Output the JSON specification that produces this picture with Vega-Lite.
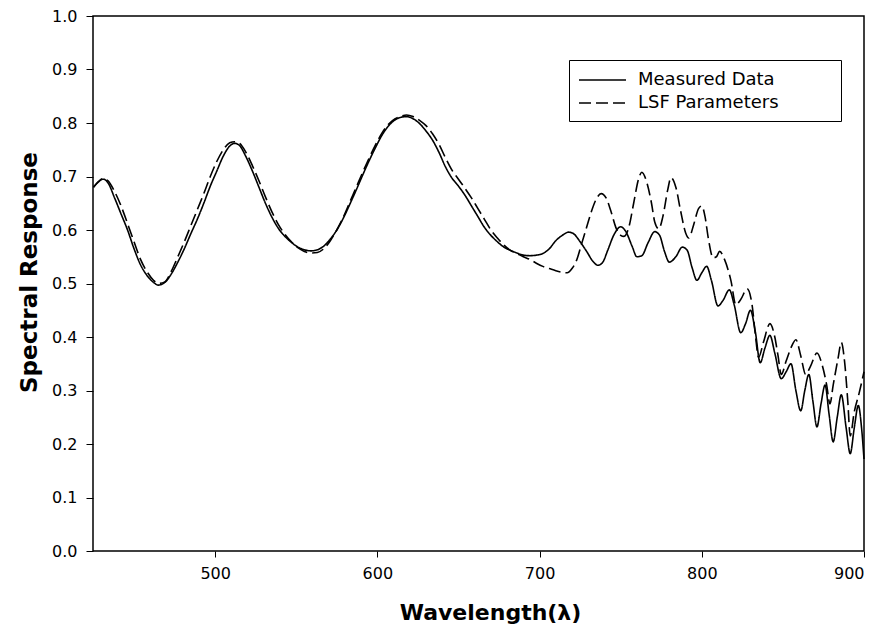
{
  "$schema": "https://vega.github.io/schema/vega-lite/v6.json",
  "autosize": "none",
  "width": 771,
  "height": 535,
  "padding": {"left": 93, "top": 16, "right": 20, "bottom": 85},
  "background": "white",
  "config": {
    "view": {"stroke": "black", "strokeWidth": 1.5},
    "font": "DejaVu Sans"
  },
  "data": {"values": [
    {"w":425,"r":0.680,"series":"Measured Data"},{"w":428,"r":0.690,"series":"Measured Data"},{"w":431,"r":0.695,"series":"Measured Data"},{"w":434,"r":0.688,"series":"Measured Data"},{"w":438,"r":0.660,"series":"Measured Data"},{"w":442,"r":0.630,"series":"Measured Data"},{"w":446,"r":0.600,"series":"Measured Data"},{"w":450,"r":0.565,"series":"Measured Data"},{"w":454,"r":0.535,"series":"Measured Data"},{"w":458,"r":0.515,"series":"Measured Data"},{"w":462,"r":0.502,"series":"Measured Data"},{"w":465,"r":0.497,"series":"Measured Data"},{"w":469,"r":0.502,"series":"Measured Data"},{"w":473,"r":0.518,"series":"Measured Data"},{"w":477,"r":0.540,"series":"Measured Data"},{"w":481,"r":0.565,"series":"Measured Data"},{"w":485,"r":0.593,"series":"Measured Data"},{"w":489,"r":0.620,"series":"Measured Data"},{"w":493,"r":0.650,"series":"Measured Data"},{"w":497,"r":0.682,"series":"Measured Data"},{"w":501,"r":0.710,"series":"Measured Data"},{"w":505,"r":0.738,"series":"Measured Data"},{"w":509,"r":0.757,"series":"Measured Data"},{"w":512,"r":0.762,"series":"Measured Data"},{"w":515,"r":0.758,"series":"Measured Data"},{"w":519,"r":0.737,"series":"Measured Data"},{"w":523,"r":0.710,"series":"Measured Data"},{"w":527,"r":0.680,"series":"Measured Data"},{"w":531,"r":0.650,"series":"Measured Data"},{"w":535,"r":0.624,"series":"Measured Data"},{"w":539,"r":0.603,"series":"Measured Data"},{"w":543,"r":0.588,"series":"Measured Data"},{"w":547,"r":0.577,"series":"Measured Data"},{"w":551,"r":0.568,"series":"Measured Data"},{"w":555,"r":0.563,"series":"Measured Data"},{"w":559,"r":0.561,"series":"Measured Data"},{"w":563,"r":0.563,"series":"Measured Data"},{"w":567,"r":0.570,"series":"Measured Data"},{"w":571,"r":0.583,"series":"Measured Data"},{"w":575,"r":0.600,"series":"Measured Data"},{"w":579,"r":0.622,"series":"Measured Data"},{"w":583,"r":0.648,"series":"Measured Data"},{"w":587,"r":0.675,"series":"Measured Data"},{"w":591,"r":0.703,"series":"Measured Data"},{"w":595,"r":0.730,"series":"Measured Data"},{"w":599,"r":0.755,"series":"Measured Data"},{"w":603,"r":0.778,"series":"Measured Data"},{"w":607,"r":0.795,"series":"Measured Data"},{"w":611,"r":0.806,"series":"Measured Data"},{"w":615,"r":0.811,"series":"Measured Data"},{"w":618,"r":0.812,"series":"Measured Data"},{"w":622,"r":0.808,"series":"Measured Data"},{"w":626,"r":0.799,"series":"Measured Data"},{"w":630,"r":0.785,"series":"Measured Data"},{"w":634,"r":0.768,"series":"Measured Data"},{"w":638,"r":0.745,"series":"Measured Data"},{"w":642,"r":0.718,"series":"Measured Data"},{"w":646,"r":0.697,"series":"Measured Data"},{"w":650,"r":0.682,"series":"Measured Data"},{"w":654,"r":0.665,"series":"Measured Data"},{"w":658,"r":0.645,"series":"Measured Data"},{"w":662,"r":0.625,"series":"Measured Data"},{"w":666,"r":0.605,"series":"Measured Data"},{"w":670,"r":0.590,"series":"Measured Data"},{"w":674,"r":0.578,"series":"Measured Data"},{"w":678,"r":0.568,"series":"Measured Data"},{"w":682,"r":0.562,"series":"Measured Data"},{"w":686,"r":0.557,"series":"Measured Data"},{"w":690,"r":0.553,"series":"Measured Data"},{"w":694,"r":0.552,"series":"Measured Data"},{"w":698,"r":0.553,"series":"Measured Data"},{"w":702,"r":0.556,"series":"Measured Data"},{"w":706,"r":0.565,"series":"Measured Data"},{"w":710,"r":0.580,"series":"Measured Data"},{"w":714,"r":0.590,"series":"Measured Data"},{"w":718,"r":0.596,"series":"Measured Data"},{"w":721,"r":0.593,"series":"Measured Data"},{"w":725,"r":0.578,"series":"Measured Data"},{"w":729,"r":0.560,"series":"Measured Data"},{"w":733,"r":0.541,"series":"Measured Data"},{"w":736,"r":0.534,"series":"Measured Data"},{"w":739,"r":0.540,"series":"Measured Data"},{"w":742,"r":0.562,"series":"Measured Data"},{"w":746,"r":0.592,"series":"Measured Data"},{"w":750,"r":0.606,"series":"Measured Data"},{"w":753,"r":0.598,"series":"Measured Data"},{"w":757,"r":0.570,"series":"Measured Data"},{"w":760,"r":0.550,"series":"Measured Data"},{"w":763,"r":0.552,"series":"Measured Data"},{"w":767,"r":0.577,"series":"Measured Data"},{"w":771,"r":0.597,"series":"Measured Data"},{"w":774,"r":0.590,"series":"Measured Data"},{"w":777,"r":0.560,"series":"Measured Data"},{"w":780,"r":0.540,"series":"Measured Data"},{"w":784,"r":0.550,"series":"Measured Data"},{"w":788,"r":0.568,"series":"Measured Data"},{"w":791,"r":0.562,"series":"Measured Data"},{"w":794,"r":0.530,"series":"Measured Data"},{"w":797,"r":0.506,"series":"Measured Data"},{"w":800,"r":0.520,"series":"Measured Data"},{"w":803,"r":0.532,"series":"Measured Data"},{"w":806,"r":0.505,"series":"Measured Data"},{"w":810,"r":0.458,"series":"Measured Data"},{"w":813,"r":0.468,"series":"Measured Data"},{"w":817,"r":0.488,"series":"Measured Data"},{"w":820,"r":0.460,"series":"Measured Data"},{"w":824,"r":0.408,"series":"Measured Data"},{"w":827,"r":0.425,"series":"Measured Data"},{"w":830,"r":0.450,"series":"Measured Data"},{"w":833,"r":0.410,"series":"Measured Data"},{"w":836,"r":0.352,"series":"Measured Data"},{"w":839,"r":0.380,"series":"Measured Data"},{"w":842,"r":0.403,"series":"Measured Data"},{"w":845,"r":0.370,"series":"Measured Data"},{"w":849,"r":0.322,"series":"Measured Data"},{"w":852,"r":0.335,"series":"Measured Data"},{"w":855,"r":0.350,"series":"Measured Data"},{"w":858,"r":0.300,"series":"Measured Data"},{"w":861,"r":0.262,"series":"Measured Data"},{"w":863.5,"r":0.300,"series":"Measured Data"},{"w":866,"r":0.330,"series":"Measured Data"},{"w":868.5,"r":0.280,"series":"Measured Data"},{"w":871,"r":0.232,"series":"Measured Data"},{"w":873.5,"r":0.275,"series":"Measured Data"},{"w":876,"r":0.310,"series":"Measured Data"},{"w":878.5,"r":0.255,"series":"Measured Data"},{"w":881,"r":0.204,"series":"Measured Data"},{"w":883.5,"r":0.250,"series":"Measured Data"},{"w":886,"r":0.292,"series":"Measured Data"},{"w":889,"r":0.230,"series":"Measured Data"},{"w":891.5,"r":0.182,"series":"Measured Data"},{"w":894,"r":0.230,"series":"Measured Data"},{"w":896.5,"r":0.272,"series":"Measured Data"},{"w":898.5,"r":0.230,"series":"Measured Data"},{"w":900,"r":0.172,"series":"Measured Data"},
    {"w":425,"r":0.680,"series":"LSF Parameters"},{"w":428,"r":0.690,"series":"LSF Parameters"},{"w":431,"r":0.696,"series":"LSF Parameters"},{"w":434,"r":0.692,"series":"LSF Parameters"},{"w":438,"r":0.672,"series":"LSF Parameters"},{"w":442,"r":0.645,"series":"LSF Parameters"},{"w":446,"r":0.612,"series":"LSF Parameters"},{"w":450,"r":0.578,"series":"LSF Parameters"},{"w":454,"r":0.545,"series":"LSF Parameters"},{"w":458,"r":0.522,"series":"LSF Parameters"},{"w":462,"r":0.506,"series":"LSF Parameters"},{"w":465,"r":0.500,"series":"LSF Parameters"},{"w":469,"r":0.503,"series":"LSF Parameters"},{"w":473,"r":0.523,"series":"LSF Parameters"},{"w":477,"r":0.550,"series":"LSF Parameters"},{"w":481,"r":0.578,"series":"LSF Parameters"},{"w":485,"r":0.608,"series":"LSF Parameters"},{"w":489,"r":0.638,"series":"LSF Parameters"},{"w":493,"r":0.668,"series":"LSF Parameters"},{"w":497,"r":0.700,"series":"LSF Parameters"},{"w":501,"r":0.728,"series":"LSF Parameters"},{"w":505,"r":0.750,"series":"LSF Parameters"},{"w":509,"r":0.763,"series":"LSF Parameters"},{"w":512,"r":0.765,"series":"LSF Parameters"},{"w":515,"r":0.762,"series":"LSF Parameters"},{"w":519,"r":0.745,"series":"LSF Parameters"},{"w":523,"r":0.720,"series":"LSF Parameters"},{"w":527,"r":0.692,"series":"LSF Parameters"},{"w":531,"r":0.662,"series":"LSF Parameters"},{"w":535,"r":0.634,"series":"LSF Parameters"},{"w":539,"r":0.610,"series":"LSF Parameters"},{"w":543,"r":0.592,"series":"LSF Parameters"},{"w":547,"r":0.578,"series":"LSF Parameters"},{"w":551,"r":0.567,"series":"LSF Parameters"},{"w":555,"r":0.560,"series":"LSF Parameters"},{"w":559,"r":0.557,"series":"LSF Parameters"},{"w":563,"r":0.558,"series":"LSF Parameters"},{"w":567,"r":0.565,"series":"LSF Parameters"},{"w":571,"r":0.580,"series":"LSF Parameters"},{"w":575,"r":0.600,"series":"LSF Parameters"},{"w":579,"r":0.624,"series":"LSF Parameters"},{"w":583,"r":0.652,"series":"LSF Parameters"},{"w":587,"r":0.680,"series":"LSF Parameters"},{"w":591,"r":0.708,"series":"LSF Parameters"},{"w":595,"r":0.735,"series":"LSF Parameters"},{"w":599,"r":0.760,"series":"LSF Parameters"},{"w":603,"r":0.782,"series":"LSF Parameters"},{"w":607,"r":0.798,"series":"LSF Parameters"},{"w":611,"r":0.808,"series":"LSF Parameters"},{"w":615,"r":0.813,"series":"LSF Parameters"},{"w":618,"r":0.815,"series":"LSF Parameters"},{"w":622,"r":0.812,"series":"LSF Parameters"},{"w":626,"r":0.805,"series":"LSF Parameters"},{"w":630,"r":0.795,"series":"LSF Parameters"},{"w":634,"r":0.780,"series":"LSF Parameters"},{"w":638,"r":0.760,"series":"LSF Parameters"},{"w":642,"r":0.735,"series":"LSF Parameters"},{"w":646,"r":0.712,"series":"LSF Parameters"},{"w":650,"r":0.695,"series":"LSF Parameters"},{"w":654,"r":0.678,"series":"LSF Parameters"},{"w":658,"r":0.660,"series":"LSF Parameters"},{"w":662,"r":0.640,"series":"LSF Parameters"},{"w":666,"r":0.620,"series":"LSF Parameters"},{"w":670,"r":0.600,"series":"LSF Parameters"},{"w":674,"r":0.585,"series":"LSF Parameters"},{"w":678,"r":0.572,"series":"LSF Parameters"},{"w":682,"r":0.562,"series":"LSF Parameters"},{"w":686,"r":0.556,"series":"LSF Parameters"},{"w":690,"r":0.550,"series":"LSF Parameters"},{"w":694,"r":0.545,"series":"LSF Parameters"},{"w":698,"r":0.538,"series":"LSF Parameters"},{"w":702,"r":0.532,"series":"LSF Parameters"},{"w":706,"r":0.528,"series":"LSF Parameters"},{"w":710,"r":0.524,"series":"LSF Parameters"},{"w":714,"r":0.521,"series":"LSF Parameters"},{"w":717,"r":0.520,"series":"LSF Parameters"},{"w":720,"r":0.528,"series":"LSF Parameters"},{"w":723,"r":0.545,"series":"LSF Parameters"},{"w":726,"r":0.575,"series":"LSF Parameters"},{"w":729,"r":0.605,"series":"LSF Parameters"},{"w":732,"r":0.635,"series":"LSF Parameters"},{"w":735,"r":0.658,"series":"LSF Parameters"},{"w":738,"r":0.668,"series":"LSF Parameters"},{"w":741,"r":0.660,"series":"LSF Parameters"},{"w":744,"r":0.635,"series":"LSF Parameters"},{"w":747,"r":0.605,"series":"LSF Parameters"},{"w":750,"r":0.590,"series":"LSF Parameters"},{"w":752,"r":0.588,"series":"LSF Parameters"},{"w":755,"r":0.605,"series":"LSF Parameters"},{"w":758,"r":0.650,"series":"LSF Parameters"},{"w":761,"r":0.695,"series":"LSF Parameters"},{"w":763,"r":0.708,"series":"LSF Parameters"},{"w":766,"r":0.690,"series":"LSF Parameters"},{"w":769,"r":0.650,"series":"LSF Parameters"},{"w":771,"r":0.615,"series":"LSF Parameters"},{"w":773.5,"r":0.602,"series":"LSF Parameters"},{"w":776,"r":0.625,"series":"LSF Parameters"},{"w":779,"r":0.675,"series":"LSF Parameters"},{"w":781,"r":0.698,"series":"LSF Parameters"},{"w":784,"r":0.680,"series":"LSF Parameters"},{"w":787,"r":0.635,"series":"LSF Parameters"},{"w":790,"r":0.595,"series":"LSF Parameters"},{"w":792,"r":0.585,"series":"LSF Parameters"},{"w":795,"r":0.610,"series":"LSF Parameters"},{"w":798,"r":0.640,"series":"LSF Parameters"},{"w":800,"r":0.645,"series":"LSF Parameters"},{"w":802,"r":0.625,"series":"LSF Parameters"},{"w":804,"r":0.585,"series":"LSF Parameters"},{"w":807,"r":0.548,"series":"LSF Parameters"},{"w":809,"r":0.550,"series":"LSF Parameters"},{"w":811,"r":0.560,"series":"LSF Parameters"},{"w":814,"r":0.545,"series":"LSF Parameters"},{"w":818,"r":0.505,"series":"LSF Parameters"},{"w":821,"r":0.460,"series":"LSF Parameters"},{"w":824,"r":0.470,"series":"LSF Parameters"},{"w":828,"r":0.490,"series":"LSF Parameters"},{"w":831,"r":0.460,"series":"LSF Parameters"},{"w":833,"r":0.405,"series":"LSF Parameters"},{"w":835,"r":0.362,"series":"LSF Parameters"},{"w":838,"r":0.390,"series":"LSF Parameters"},{"w":842,"r":0.425,"series":"LSF Parameters"},{"w":845,"r":0.400,"series":"LSF Parameters"},{"w":847,"r":0.365,"series":"LSF Parameters"},{"w":849,"r":0.330,"series":"LSF Parameters"},{"w":852,"r":0.355,"series":"LSF Parameters"},{"w":855,"r":0.380,"series":"LSF Parameters"},{"w":858,"r":0.395,"series":"LSF Parameters"},{"w":861,"r":0.365,"series":"LSF Parameters"},{"w":864,"r":0.330,"series":"LSF Parameters"},{"w":867,"r":0.345,"series":"LSF Parameters"},{"w":871,"r":0.370,"series":"LSF Parameters"},{"w":874,"r":0.350,"series":"LSF Parameters"},{"w":877,"r":0.310,"series":"LSF Parameters"},{"w":879,"r":0.275,"series":"LSF Parameters"},{"w":881,"r":0.310,"series":"LSF Parameters"},{"w":884,"r":0.360,"series":"LSF Parameters"},{"w":886,"r":0.390,"series":"LSF Parameters"},{"w":888,"r":0.355,"series":"LSF Parameters"},{"w":890,"r":0.280,"series":"LSF Parameters"},{"w":891.5,"r":0.215,"series":"LSF Parameters"},{"w":894,"r":0.260,"series":"LSF Parameters"},{"w":897,"r":0.295,"series":"LSF Parameters"},{"w":900,"r":0.335,"series":"LSF Parameters"}
  ]},
  "mark": {"type": "line", "color": "black", "strokeWidth": 1.6, "interpolate": "monotone"},
  "encoding": {
    "x": {
      "field": "w", "type": "quantitative",
      "scale": {"domain": [424.7, 900], "nice": false, "zero": false},
      "axis": {
        "title": "Wavelength(λ)", "values": [500, 600, 700, 800, 900],
        "grid": false, "domain": false, "tickColor": "black", "tickSize": 6,
        "labelFontSize": 16, "labelColor": "black", "labelPadding": 8,
        "titleFontSize": 22, "titleFontWeight": "bold", "titleColor": "black", "titlePadding": 21,
        "titleX": 397
      }
    },
    "y": {
      "field": "r", "type": "quantitative",
      "scale": {"domain": [0, 1], "nice": false},
      "axis": {
        "title": "Spectral Response", "values": [0,0.1,0.2,0.3,0.4,0.5,0.6,0.7,0.8,0.9,1.0],
        "format": ".1f", "grid": false, "domain": false, "tickColor": "black", "tickSize": 7,
        "labelFontSize": 16, "labelColor": "black", "labelPadding": 9,
        "titleFontSize": 23, "titleFontWeight": "bold", "titleColor": "black", "titlePadding": 10,
        "titleY": 256
      }
    },
    "strokeDash": {
      "field": "series", "type": "nominal",
      "scale": {"domain": ["Measured Data", "LSF Parameters"], "range": [[1, 0], [12, 5]]},
      "legend": {
        "title": null, "orient": "none", "legendX": 476, "legendY": 44,
        "symbolType": "M-1,0L3.7,0", "symbolSize": 400, "symbolStrokeColor": "black", "symbolStrokeWidth": 1.5,
        "labelFontSize": 18, "labelColor": "black", "labelOffset": 38, "labelLimit": 400,
        "labelExpr": "datum.label + '\u2800\u2800\u2800\u2800'",
        "strokeColor": "black", "padding": 9, "rowPadding": 3
      }
    }
  }
}
